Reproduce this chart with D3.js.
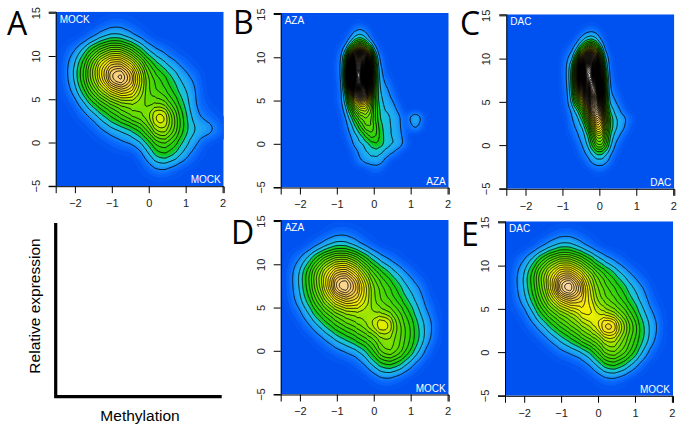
<!DOCTYPE html>
<html>
<head>
<meta charset="utf-8">
<script src="https://cdn.jsdelivr.net/npm/d3@7"></script>
<style>
  body { margin: 0; background: #fff; }
  svg { display: block; }
  text { font-family: "Liberation Sans", Arial, sans-serif; }
</style>
</head>
<body>
<svg id="fig" width="683" height="431"></svg>
<script>
// contour level at each node of a coarse lattice
const wideX = [-2.1, -1.8, -1.5, -1.2, -0.9, -0.6, -0.3, 0, 0.3, 0.6, 0.9, 1.2, 1.5, 1.8];
const wideY = [13.5, 12, 10.5, 9, 7.5, 6, 4.5, 3, 1.5, 0, -1.5, -3];
const narrowX = [-1.05, -0.9, -0.75, -0.6, -0.45, -0.3, -0.15, 0, 0.15, 0.3, 0.45, 0.6, 0.75, 0.9, 1.05, 1.2, 1.35];
const narrowY = [14, 13, 12, 11, 10, 9, 8, 7, 6, 5, 4, 3, 2, 1, 0, -1, -2, -3];

const mockLevels = [
  [0, 0, 0, 0.3, 0.6, 0.4, 0.1, 0, 0, 0, 0, 0, 0, 0],
  [0, 0.1, 0.8, 1.8, 2.4, 1.6, 0.8, 0.2, 0, 0, 0, 0, 0, 0],
  [0.5, 1.6, 4.2, 6.2, 7.5, 6.2, 3.6, 1.4, 0.8, 0.3, 0, 0, 0, 0],
  [1, 3, 7, 10.5, 12.5, 11, 7.5, 3.8, 2.2, 1.2, 0.6, 0.1, 0, 0],
  [1, 3.5, 7.5, 11, 17, 15, 9.5, 5, 4, 2.5, 1.2, 0.7, 0, 0],
  [0.6, 2.4, 5.5, 8, 10.5, 11.5, 8.5, 5, 4.5, 3.2, 1.8, 1, 0, 0],
  [0.1, 1, 2.8, 4.5, 6, 6.8, 6.8, 5.5, 6.5, 4.5, 2.5, 0.9, 0.2, 0],
  [0, 0.3, 0.9, 2.2, 3.5, 5, 6, 6.5, 11, 6.5, 3.2, 1.1, 0.6, 0.2],
  [0, 0, 0.2, 0.8, 1.4, 1.9, 3, 5, 8.5, 6.5, 3.2, 1.6, 1.3, 0.9],
  [0, 0, 0, 0.1, 0.4, 0.7, 1, 2.5, 5, 4.2, 2.2, 1.1, 0.2, 0],
  [0, 0, 0, 0, 0, 0, 0.1, 1.2, 3, 2.5, 1.3, 0.4, 0, 0],
  [0, 0, 0, 0, 0, 0, 0, 0.3, 0.9, 0.5, 0.1, 0, 0, 0]
];
const azaMockLevels = [
  [0, 0, 0, 0.3, 0.6, 0.4, 0.1, 0, 0, 0, 0, 0, 0, 0],
  [0, 0.1, 0.8, 1.8, 2.6, 1.8, 0.8, 0.2, 0, 0, 0, 0, 0, 0],
  [0.5, 1.6, 4.2, 6.4, 7.5, 6.8, 4.1, 2, 0.9, 0.4, 0, 0, 0, 0],
  [1, 3.2, 6.8, 9.8, 12.8, 11.3, 7.5, 4.5, 2.9, 1.5, 0.7, 0.1, 0, 0],
  [1, 3.2, 6.8, 10.5, 18, 15, 9.8, 6, 4.5, 3, 1.4, 0.8, 0, 0],
  [0.8, 2.5, 5.3, 8.3, 11.3, 12, 9.4, 6, 4.9, 3.8, 2.2, 1.2, 0.2, 0],
  [0.3, 1.3, 3.4, 5.3, 6.8, 7.5, 7.5, 6.8, 6.4, 5.3, 3.4, 1.6, 0.6, 0],
  [0, 0.5, 1.5, 3, 4.5, 5.6, 6.4, 8.3, 11, 6, 4.5, 2.2, 1, 0],
  [0, 0, 0.4, 1.1, 2.2, 3, 4.5, 5.3, 7.5, 6, 4.5, 2.5, 0.8, 0],
  [0, 0, 0, 0.2, 0.6, 1, 1.7, 3.8, 6.8, 6, 3.8, 1.6, 0.2, 0],
  [0, 0, 0, 0, 0, 0.1, 0.5, 1.7, 3.4, 3, 1.4, 0.3, 0, 0],
  [0, 0, 0, 0, 0, 0, 0, 0.3, 0.9, 0.5, 0.1, 0, 0, 0]
];
const dacMockLevels = [
  [0, 0, 0, 0.3, 0.6, 0.4, 0.1, 0, 0, 0, 0, 0, 0, 0],
  [0, 0.1, 0.8, 1.8, 2.6, 1.8, 0.8, 0.2, 0, 0, 0, 0, 0, 0],
  [0.5, 1.6, 4.2, 6.4, 7.5, 6.4, 4.1, 2, 1, 0.4, 0, 0, 0, 0],
  [1, 3, 6.8, 9.8, 12.8, 10.9, 7.5, 4.9, 3.2, 1.6, 0.7, 0.1, 0, 0],
  [1, 3, 6.4, 10.5, 19, 15.8, 9, 6, 4.5, 3.2, 1.6, 0.8, 0, 0],
  [0.7, 2.2, 5.3, 8.3, 11.3, 12, 9.8, 6.4, 5.3, 4.1, 2.4, 1.2, 0.2, 0],
  [0.2, 1, 3.4, 5.3, 6.8, 7.9, 10.5, 8.3, 7.5, 6, 3.8, 1.7, 0.7, 0],
  [0, 0.4, 1.2, 3, 4.5, 6, 7.5, 9, 14, 8.3, 5.3, 2.4, 1.1, 0],
  [0, 0, 0.3, 1, 2.2, 3.4, 5.3, 6, 9, 6.8, 4.5, 2.5, 0.8, 0],
  [0, 0, 0, 0.2, 0.6, 1, 1.8, 3.8, 6.8, 5.6, 3.8, 1.3, 0.2, 0],
  [0, 0, 0, 0, 0, 0.1, 0.4, 1.5, 3.4, 2.8, 1.3, 0.2, 0, 0],
  [0, 0, 0, 0, 0, 0, 0, 0.2, 0.7, 0.4, 0, 0, 0, 0]
];
const azaLevels = [
  [0, 0, 0, 0, 0.2, 0.1, 0, 0, 0, 0, 0, 0, 0, 0, 0, 0, 0],
  [0, 0, 0, 0.3, 1, 1, 0.3, 0, 0, 0, 0, 0, 0, 0, 0, 0, 0],
  [0, 0, 0.2, 1.2, 3, 3, 1, 0.1, 0, 0, 0, 0, 0, 0, 0, 0, 0],
  [0, 0.3, 0.8, 4, 10, 10, 5, 0.8, 0.1, 0, 0, 0, 0, 0, 0, 0, 0],
  [0, 0.7, 1.2, 14, 32, 30, 16, 2, 0.6, 0.1, 0, 0, 0, 0, 0, 0, 0],
  [0, 0.9, 1.3, 20, 50, 38, 20, 3, 0.8, 0.2, 0, 0, 0, 0, 0, 0, 0],
  [0, 0.8, 1.3, 24, 70, 42, 20, 4, 1, 0.3, 0.1, 0, 0, 0, 0, 0, 0],
  [0, 0.6, 1.2, 20, 55, 42, 18, 4, 1.1, 0.9, 0.3, 0, 0, 0, 0, 0, 0],
  [0, 0.5, 1.1, 12, 22, 30, 14, 4, 1.3, 1.1, 0.7, 0.1, 0, 0, 0, 0, 0],
  [0, 0.5, 1.2, 7, 11, 14, 9, 4, 1.6, 1.2, 1, 0.4, 0, 0, 0, 0, 0],
  [0, 0.2, 1, 4, 7, 9, 8, 4.5, 2, 1.5, 1.3, 0.9, 0.2, 0, 0, 0, 0],
  [0, 0, 0.7, 2, 4.5, 6, 6.5, 4.5, 2, 1.8, 1.6, 1.2, 0.7, 0, 1.5, 1.5, 0.1],
  [0, 0, 0.5, 1.2, 2.5, 4.5, 6, 5, 2.5, 1.8, 1.6, 1.2, 0.7, 0, 1, 1, 0],
  [0, 0, 0.2, 1, 1.5, 2.5, 4, 5, 3, 2, 1.6, 1.3, 0.9, 0.1, 0, 0, 0],
  [0, 0, 0, 0.6, 1.2, 1.5, 2, 3.2, 3, 2, 1.7, 1.4, 1, 0.3, 0, 0, 0],
  [0, 0, 0, 0.1, 0.7, 1.1, 1.6, 2, 1.8, 1.2, 0.9, 0.6, 0.1, 0, 0, 0, 0],
  [0, 0, 0, 0, 0.5, 0.9, 1, 1.2, 1.2, 0.6, 0.1, 0, 0, 0, 0, 0, 0],
  [0, 0, 0, 0, 0, 0, 0.2, 0.4, 0.4, 0.1, 0, 0, 0, 0, 0, 0, 0]
];
const dacLevels = [
  [0, 0, 0, 0, 0, 0.1, 0.1, 0, 0, 0, 0, 0, 0, 0, 0, 0, 0],
  [0, 0, 0, 0, 0.4, 0.8, 0.9, 0.3, 0, 0, 0, 0, 0, 0, 0, 0, 0],
  [0, 0, 0.1, 0.5, 1.5, 3, 3, 1, 0.1, 0, 0, 0, 0, 0, 0, 0, 0],
  [0, 0.2, 0.6, 1.2, 5, 10, 11, 3, 0.3, 0, 0, 0, 0, 0, 0, 0, 0],
  [0, 0.6, 1, 3, 16, 28, 24, 7, 0.8, 0.2, 0, 0, 0, 0, 0, 0, 0],
  [0, 0.8, 1.2, 8, 26, 50, 32, 12, 1, 0.3, 0, 0, 0, 0, 0, 0, 0],
  [0, 0.8, 1.2, 9, 26, 55, 34, 16, 1.1, 0.5, 0, 0, 0, 0, 0, 0, 0],
  [0, 0.7, 1.1, 9, 22, 36, 48, 20, 1.2, 0.7, 0.1, 0, 0, 0, 0, 0, 0],
  [0, 0.5, 1, 8, 13, 24, 42, 24, 1.4, 0.9, 0.4, 0, 0, 0, 0, 0, 0],
  [0, 0.4, 1, 5, 8, 14, 28, 20, 2, 1.1, 0.9, 0.1, 0, 0, 0, 0, 0],
  [0, 0.2, 0.8, 2, 4, 9, 18, 20, 4, 1.8, 1.2, 0.6, 0.1, 0, 0, 0, 0],
  [0, 0, 0.7, 1.2, 2, 6, 12, 17, 7, 2.2, 1.7, 1.2, 0.7, 0.2, 0, 0, 0],
  [0, 0, 0.5, 0.9, 1.3, 3, 8, 14, 6, 2.2, 1.7, 1, 0.5, 0, 0, 0, 0],
  [0, 0, 0.2, 0.7, 1, 2, 5, 10, 5, 1.7, 1.1, 0.5, 0.1, 0, 0, 0, 0],
  [0, 0, 0, 0.3, 0.8, 1.5, 3.5, 7, 4, 1.3, 0.6, 0.1, 0, 0, 0, 0, 0],
  [0, 0, 0, 0.1, 0.5, 0.9, 1.7, 3, 1.7, 0.8, 0.2, 0, 0, 0, 0, 0, 0],
  [0, 0, 0, 0, 0.1, 0.5, 1, 1.2, 1, 0.4, 0, 0, 0, 0, 0, 0, 0],
  [0, 0, 0, 0, 0, 0, 0.2, 0.3, 0.2, 0, 0, 0, 0, 0, 0, 0, 0]
];

const xTicks = [-2, -1, 0, 1, 2];
const yTicks = [-5, 0, 5, 10, 15];

const panels = [
  {letter: "A", levels: mockLevels, xs: wideX, ys: wideY, bw: 6.5, top: "MOCK", bottom: "MOCK", left: 55.7, y0: 11.7, lx: 7, ly: 35},
  {letter: "B", levels: azaLevels, xs: narrowX, ys: narrowY, bw: 4, top: "AZA", bottom: "AZA", left: 280.7, y0: 13, lx: 233, ly: 34},
  {letter: "C", levels: dacLevels, xs: narrowX, ys: narrowY, bw: 4, top: "DAC", bottom: "DAC", left: 506.3, y0: 14.3, lx: 460, ly: 35},
  {letter: "D", levels: azaMockLevels, xs: wideX, ys: wideY, bw: 6.5, top: "AZA", bottom: "MOCK", left: 280.7, y0: 220, lx: 231, ly: 244},
  {letter: "E", levels: dacMockLevels, xs: wideX, ys: wideY, bw: 6.5, top: "DAC", bottom: "MOCK", left: 505, y0: 221.3, lx: 461, ly: 246}
];

const W = 168, H = 174.5;
const gain = 1.3;
const color = d3.scaleLinear()
  .domain([0, 0.5, 1.4, 2.6, 3.5, 8, 12, 16, 21, 40, 55])
  .range(["#0052f0", "#0a6cff", "#1ea6f5", "#18c8d0", "#12c814", "#70e000", "#f5f000", "#f5c850", "#fcdcb0", "#fcdcb0", "#ffffff"])
  .clamp(true);

const svg = d3.select("#fig");
const path = d3.geoPath();

panels.forEach((p, i) => {
  const x = d3.scaleLinear().domain([-2.52, 2.03]).range([0, W]);
  const y = d3.scaleLinear().domain([-5.05, 15.12]).range([H, 0]);
  const g = svg.append("g").attr("transform", `translate(${p.left},${p.y0})`);

  g.append("clipPath").attr("id", "clip" + i)
    .append("rect").attr("width", W).attr("height", H);

  // lattice nodes, weighted so the density comes out in contour levels
  const nodes = p.ys.flatMap((yv, r) => p.xs.map((xv, c) => ({x: xv, y: yv, level: p.levels[r][c]})));
  const cell = (x(p.xs[1]) - x(p.xs[0])) * (y(p.ys[1]) - y(p.ys[0]));
  const contours = d3.contourDensity()
      .x(d => x(d.x))
      .y(d => y(d.y))
      .weight(d => d.level * cell * gain)
      .size([W, H])
      .cellSize(1)
      .bandwidth(p.bw)
      .contours(nodes);

  const plot = g.append("g").attr("clip-path", `url(#clip${i})`);
  plot.append("rect").attr("width", W).attr("height", H).attr("fill", color(0));

  // fine colour bands
  plot.append("g").selectAll("path")
    .data(d3.range(0.1, contours.max, 0.2))
    .join("path")
      .attr("d", l => path(contours(l)))
      .attr("fill", l => color(l));

  plot.append("g").selectAll("path")
    .data(d3.range(1, contours.max, 1))
    .join("path")
      .attr("d", l => path(contours(l)))
      .attr("fill", "none")
      .attr("stroke", "#000")
      .attr("stroke-width", 0.85);

  const xAxis = d3.axisBottom(x).tickValues(xTicks).tickSize(7).tickPadding(6).tickFormat(d3.format("d"));
  const yAxis = d3.axisLeft(y).tickValues(yTicks).tickSize(7).tickFormat(d3.format("d"));

  const gx = g.append("g").attr("transform", `translate(0,${H})`).call(xAxis);
  const gy = g.append("g").call(yAxis);
  gx.selectAll("text").attr("font-size", 11).attr("fill", "#222").style("font-family", "inherit");
  gy.selectAll("text")
    .attr("font-size", 11).attr("fill", "#222")
    .attr("text-anchor", "middle")
    .attr("transform", "rotate(-90)")
    .attr("x", 0).attr("dy", 0).attr("y", -16);
  g.selectAll(".domain").attr("stroke", "#000");

  g.append("text").attr("x", 4).attr("y", 11).attr("fill", "#fff").attr("font-size", 10).text(p.top);
  g.append("text").attr("x", W - 3).attr("y", H - 3).attr("text-anchor", "end").attr("fill", "#fff").attr("font-size", 10).text(p.bottom);

  svg.append("text").attr("x", p.lx).attr("y", p.ly)
    .style("font-family", "'Open Sans'").attr("font-size", 32).text(p.letter);
});

// schematic axes, lower left
svg.append("path").attr("d", d3.line()([[55.7, 223], [55.7, 396.7], [221.7, 396.7]]))
  .attr("fill", "none").attr("stroke", "#000").attr("stroke-width", 3.2);
svg.append("text").attr("x", 140).attr("y", 421).attr("text-anchor", "middle").attr("font-size", 15.5).text("Methylation");
svg.append("text").attr("transform", "translate(40,306) rotate(-90)").attr("text-anchor", "middle").attr("font-size", 15.5).text("Relative expression");
</script>
</body>
</html>
